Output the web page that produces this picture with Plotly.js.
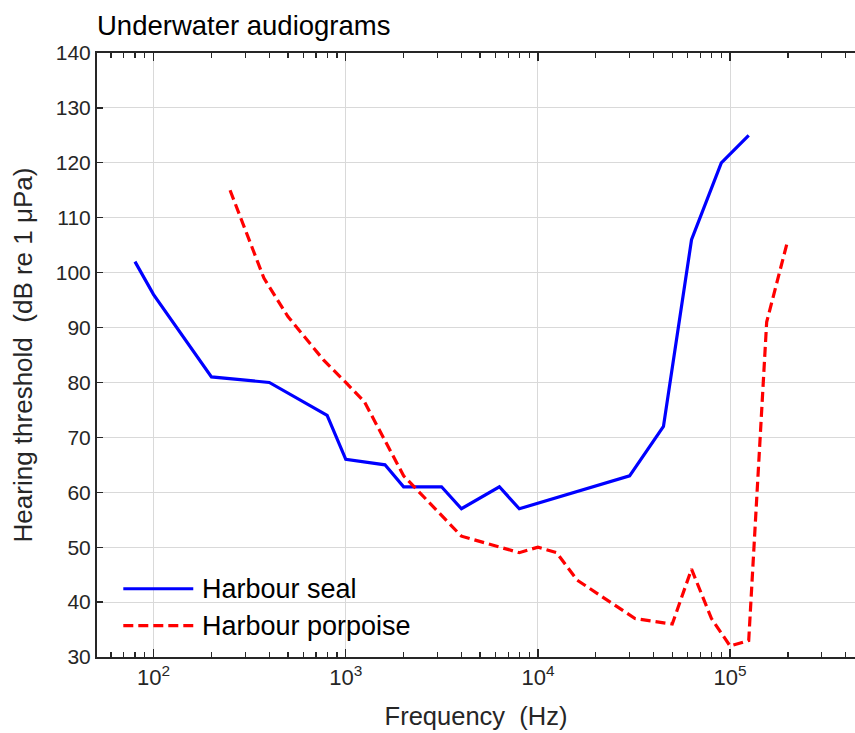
<!DOCTYPE html>
<html>
<head>
<meta charset="utf-8">
<script src="https://cdn.plot.ly/plotly-3.0.1.min.js"></script>
<style>
  html, body { margin: 0; padding: 0; background: #ffffff; }
  #chart { width: 855px; height: 733px; }
</style>
</head>
<body>
<div id="chart"></div>
<script>
// ---- data ----
const sealFreq = [80, 100, 200, 400, 800, 1000, 1600, 2000, 3150, 4000, 6300, 8000, 30000, 45000, 63000, 90000, 125000];
const sealDb   = [102, 96, 81, 80, 74, 66, 65, 61, 61, 57, 61, 57, 63, 72, 106, 120, 125];

const porpFreq = [250, 375, 500, 770, 1000, 1250, 2000, 4000, 8000, 10000, 12500, 16000, 32000, 50000, 63000, 80000, 100000, 125000, 155000, 200000];
const porpDb   = [115, 99, 92, 84, 80, 76.5, 63, 52, 49, 50, 49, 44, 37, 36, 46, 37, 32, 33, 91, 106];

const seriesNames = ['Harbour seal', 'Harbour porpoise'];
const xTickVals = [100, 1000, 10000, 100000];
const xTickText = ['10<sup>2</sup>', '10<sup>3</sup>', '10<sup>4</sup>', '10<sup>5</sup>'];
const xMinorVals = [60, 70, 80, 90, 200, 300, 400, 500, 600, 700, 800, 900,
  2000, 3000, 4000, 5000, 6000, 7000, 8000, 9000,
  20000, 30000, 40000, 50000, 60000, 70000, 80000, 90000,
  200000, 300000, 400000];
const yTickVals = [30, 40, 50, 60, 70, 80, 90, 100, 110, 120, 130, 140];

const titleText = 'Underwater audiograms';
const xTitle = 'Frequency\u00A0\u00A0(Hz)';
const yTitle = 'Hearing threshold\u00A0\u00A0(dB re 1 \u03BCPa)';

// ---- style ----
const FONT = 'Liberation Sans, Arial, Helvetica, sans-serif';
const TXT = '#262626';
const BLUE = '#0000ff';
const RED = '#ff0000';
const DASH = '10px,5px';

const traces = [
  { x: sealFreq, y: sealDb, name: seriesNames[0], type: 'scatter', mode: 'lines',
    line: { color: BLUE, width: 3.2 } },
  { x: porpFreq, y: porpDb, name: seriesNames[1], type: 'scatter', mode: 'lines',
    line: { color: RED, width: 3.2, dash: DASH } }
];

// legend (drawn in paper space)
const legX0 = 0.0347, legX1 = 0.127, legTx = 0.136;
const legY = [0.113, 0.0518];

const layout = {
  width: 855, height: 733,
  margin: { l: 97, r: 0, t: 53, b: 76, pad: 0 },
  paper_bgcolor: '#ffffff', plot_bgcolor: '#ffffff',
  font: { family: FONT, color: TXT, size: 21 },
  showlegend: false,
  title: { text: titleText, x: 0, xanchor: 'left', xref: 'paper', y: 0.966, yanchor: 'middle',
           font: { family: FONT, size: 27.5, color: '#000000' } },
  xaxis: {
    type: 'log',
    range: [1.7055, 5.650],
    tickvals: xTickVals, ticktext: xTickText,
    ticks: 'inside', ticklen: 8, tickwidth: 1.2, tickcolor: TXT,
    showline: true, linecolor: TXT, linewidth: 2, mirror: 'ticks',
    showgrid: true, gridcolor: '#d9d9d9', gridwidth: 1,
    zeroline: false,
    tickfont: { family: FONT, size: 22, color: TXT },
    minor: { tickvals: xMinorVals, ticks: 'inside', ticklen: 5, tickwidth: 1.2, tickcolor: TXT, showgrid: false },
    title: { text: xTitle, font: { family: FONT, size: 25.5, color: TXT }, standoff: 18 },
    automargin: false
  },
  yaxis: {
    range: [30, 140],
    tickvals: yTickVals,
    ticks: 'inside', ticklen: 6, tickwidth: 1.2, tickcolor: TXT,
    showline: true, linecolor: TXT, linewidth: 2, mirror: false,
    showgrid: true, gridcolor: '#d9d9d9', gridwidth: 1,
    zeroline: false,
    tickfont: { family: FONT, size: 21, color: TXT },
    title: { text: yTitle, font: { family: FONT, size: 26, color: TXT }, standoff: 16 },
    automargin: false
  },
  shapes: [
    { type: 'line', xref: 'paper', yref: 'paper', x0: legX0, x1: legX1, y0: legY[0], y1: legY[0],
      line: { color: BLUE, width: 3.2 } },
    { type: 'line', xref: 'paper', yref: 'paper', x0: legX0, x1: legX1, y0: legY[1], y1: legY[1],
      line: { color: RED, width: 3.2, dash: DASH } }
  ],
  annotations: [
    { text: seriesNames[0], xref: 'paper', yref: 'paper', x: legTx, y: legY[0], xanchor: 'left', yanchor: 'middle',
      showarrow: false, font: { family: FONT, size: 27, color: '#000000' } },
    { text: seriesNames[1], xref: 'paper', yref: 'paper', x: legTx, y: legY[1], xanchor: 'left', yanchor: 'middle',
      showarrow: false, font: { family: FONT, size: 27, color: '#000000' } }
  ]
};

Plotly.newPlot('chart', traces, layout, { staticPlot: true, displayModeBar: false });
</script>
</body>
</html>
